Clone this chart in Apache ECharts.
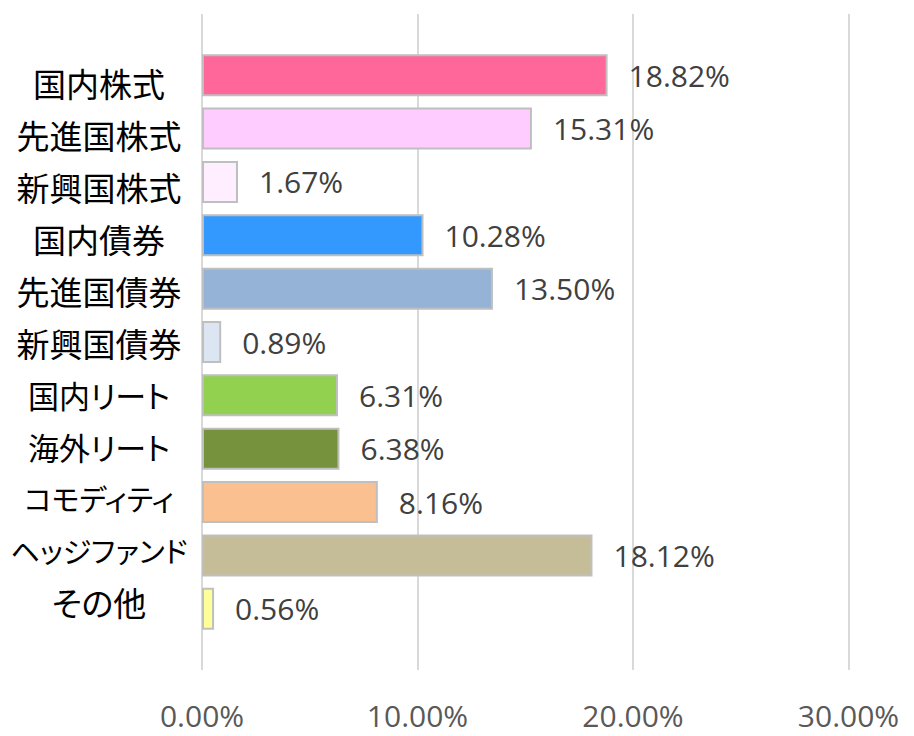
<!DOCTYPE html>
<html>
<head>
<meta charset="utf-8">
<script src="https://cdn.jsdelivr.net/npm/echarts@6/dist/echarts.min.js"></script>
<style>html,body{margin:0;padding:0;background:#fff}#c{width:914px;height:736px}
#c text{font-feature-settings:"palt" 1;}</style>
</head>
<body>
<div id="c"></div>
<script>
const categories = ['国内株式','先進国株式','新興国株式','国内債券','先進国債券','新興国債券','国内リート','海外リート','コモディティ','ヘッジファンド','その他'];
const values = [18.82, 15.31, 1.67, 10.28, 13.50, 0.89, 6.31, 6.38, 8.16, 18.12, 0.56];
const barColors = ['#FF6699','#FFCCFF','#FFEEFF','#3399FF','#95B3D7','#DCE6F2','#92D050','#76923C','#FAC090','#C4BD97','#FFFF99'];
const xTicks = [0, 10, 20, 30];

// long katakana labels are set narrower (the original uses a proportional kana font)
const narrowLabelSize = {'コモディティ': 29, 'ヘッジファンド': 29, '国内リート': 31, '海外リート': 31};
const labelItems = categories.map(c => narrowLabelSize[c]
  ? {value: c, textStyle: {fontSize: narrowLabelSize[c], align: 'center', fontFamily: 'Noto Sans CJK JP', color: '#000'}}
  : c);

const chart = echarts.init(document.getElementById('c'), null, {renderer: 'svg'});
const L = 202, W = 646.5;
chart.setOption({
  animation: false,
  grid: [
    {left: L, width: W, top: 48.5, height: 587, outerBoundsMode: 'none', containLabel: false},
    {left: L, width: W, top: 14, height: 656, outerBoundsMode: 'none', containLabel: false},
    {left: L, width: W, top: 57, height: 571, outerBoundsMode: 'none', containLabel: false}
  ],
  xAxis: [
    {gridIndex: 0, type: 'value', min: xTicks[0], max: xTicks[xTicks.length-1], interval: 10, show: false},
    {gridIndex: 1, type: 'value', min: xTicks[0], max: xTicks[xTicks.length-1], interval: 10,
     axisLine: {show: false}, axisTick: {show: false},
     splitLine: {show: true, lineStyle: {color: '#D9D9D9', width: 2}},
     axisLabel: {margin: 30, fontFamily: 'Open Sans', fontSize: 30, color: '#595959',
       formatter: v => v.toFixed(2) + '%'}},
    {gridIndex: 2, type: 'value', min: 0, max: 30, show: false}
  ],
  yAxis: [
    {gridIndex: 0, type: 'category', data: categories, inverse: true, show: false},
    {gridIndex: 1, type: 'category', data: categories, inverse: true, show: false},
    {gridIndex: 2, type: 'category', data: labelItems, inverse: true,
     axisLine: {show: false}, axisTick: {show: false}, splitLine: {show: false},
     axisLabel: {margin: 103, align: 'center', overflow: 'none', hideOverlap: false,
       fontFamily: 'Noto Sans CJK JP', fontSize: 33, color: '#000'}}
  ],
  series: [{
    type: 'bar', xAxisIndex: 0, yAxisIndex: 0,
    data: values.map((v, i) => ({value: v, itemStyle: {color: barColors[i]}})),
    barWidth: 42,
    itemStyle: {borderColor: '#BFBFBF', borderWidth: 2},
    label: {show: true, position: 'right', distance: 21, fontFamily: 'Open Sans', fontSize: 30, color: '#404040',
      formatter: p => p.value.toFixed(2) + '%'}
  }]
});
</script>
</body>
</html>
